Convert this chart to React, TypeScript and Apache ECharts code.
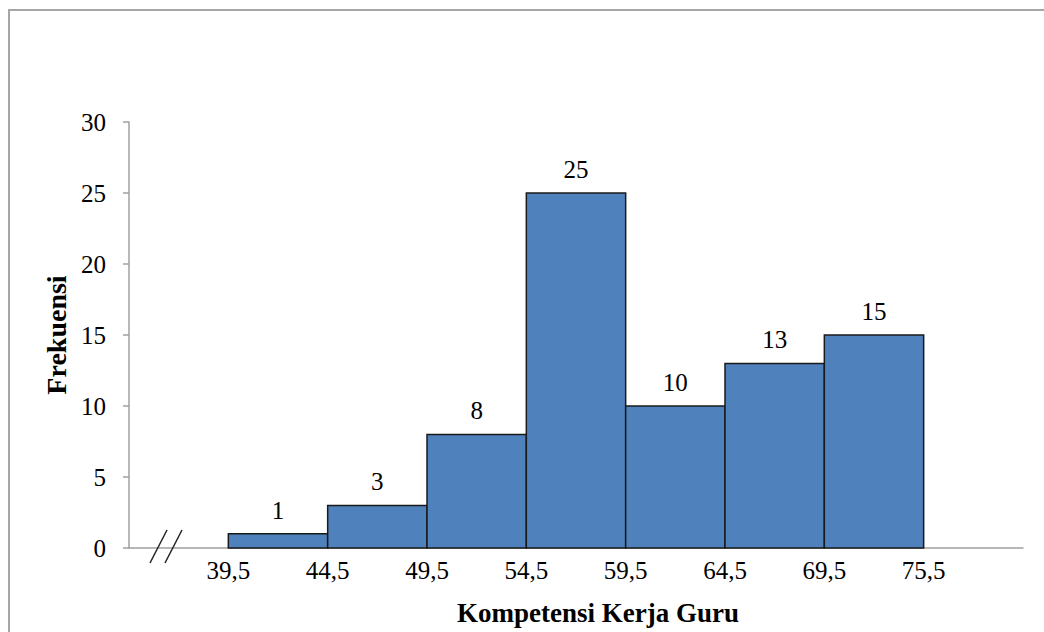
import React, { useEffect, useRef } from "react";
import * as echarts from "echarts";

// Class boundaries (left edges of each class plus the last right edge)
const classEdges = ["39,5", "44,5", "49,5", "54,5", "59,5", "64,5", "69,5", "75,5"];
// Frequency of each class interval
const frequencies = [1, 3, 8, 25, 10, 13, 15];
const yTicks = [0, 5, 10, 15, 20, 25, 30];

const FONT = "'Liberation Serif', 'Times New Roman', serif";

export default function App() {
  const ref = useRef<HTMLDivElement>(null);

  useEffect(() => {
    if (!ref.current) return;
    const chart = echarts.init(ref.current, null, { renderer: "svg" });

    const data = frequencies.map((f, i) => [i, f]);

    chart.setOption({
      animation: false,
      backgroundColor: "#ffffff",
      grid: { left: 129, right: 21, top: 122, bottom: 84 },
      xAxis: {
        type: "value",
        min: -1,
        max: 8,
        interval: 1,
        name: "Kompetensi Kerja Guru",
        nameLocation: "middle",
        nameGap: 51,
        nameTextStyle: {
          fontFamily: FONT,
          fontSize: 27,
          fontWeight: "bold",
          color: "#000",
          padding: [0, 0, 0, 44],
        },
        axisLine: { show: true, onZero: false, lineStyle: { color: "#a0a0a0", width: 1.5 } },
        axisTick: { show: false },
        splitLine: { show: false },
        axisLabel: {
          margin: 10,
          fontFamily: FONT,
          fontSize: 25,
          color: "#000",
          formatter: (v: number) => (classEdges[v] !== undefined ? classEdges[v] : ""),
        },
      },
      yAxis: {
        type: "value",
        min: yTicks[0],
        max: yTicks[yTicks.length - 1],
        interval: 5,
        name: "Frekuensi",
        nameLocation: "middle",
        nameGap: 58,
        nameRotate: 90,
        nameTextStyle: { fontFamily: FONT, fontSize: 28, fontWeight: "bold", color: "#000" },
        axisLine: { show: true, onZero: false, lineStyle: { color: "#a0a0a0", width: 1.5 } },
        axisTick: { show: true, length: 6, lineStyle: { color: "#a0a0a0", width: 1.5 } },
        splitLine: { show: false },
        axisLabel: { margin: 23, fontFamily: FONT, fontSize: 25, color: "#000" },
      },
      graphic: [
        {
          type: "rect",
          shape: { x: 9, y: 10, width: 1200, height: 800 },
          style: { fill: "none", stroke: "#a6a6a6", lineWidth: 2 },
          silent: true,
        },
        {
          type: "line",
          shape: { x1: 150, y1: 563, x2: 167, y2: 530 },
          style: { stroke: "#222", lineWidth: 1.5 },
          z: 100,
        },
        {
          type: "line",
          shape: { x1: 165, y1: 563, x2: 182, y2: 530 },
          style: { stroke: "#222", lineWidth: 1.5 },
          z: 100,
        },
      ],
      series: [
        {
          type: "custom",
          data,
          encode: { x: 0, y: 1 },
          renderItem: (params: any, api: any) => {
            const i = api.value(0);
            const v = api.value(1);
            const p0 = api.coord([i, v]);
            const p1 = api.coord([i + 1, 0]);
            return {
              type: "group",
              children: [
                {
                  type: "rect",
                  shape: { x: p0[0], y: p0[1], width: p1[0] - p0[0], height: p1[1] - p0[1] },
                  style: { fill: "#4f81bd", stroke: "#1a1a1a", lineWidth: 1.5 },
                },
                {
                  type: "text",
                  x: (p0[0] + p1[0]) / 2,
                  y: p0[1] - 11,
                  style: {
                    text: String(v),
                    fontFamily: FONT,
                    fontSize: 25,
                    fill: "#000",
                    align: "center",
                    verticalAlign: "bottom",
                  },
                },
              ],
            };
          },
        },
      ],
    });

    return () => chart.dispose();
  }, []);

  return (
    <div
      ref={ref}
      style={{ position: "fixed", left: 0, top: 0, width: 1044, height: 632 }}
    />
  );
}
